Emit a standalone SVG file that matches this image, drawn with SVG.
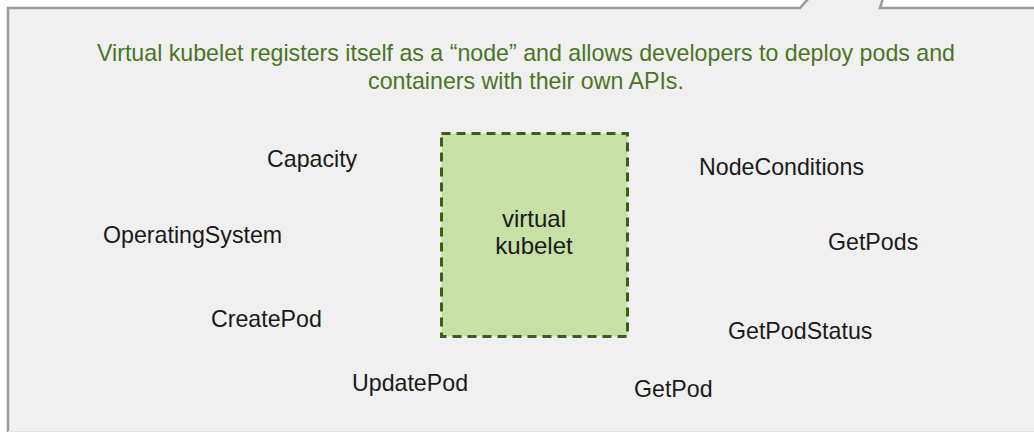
<svg xmlns="http://www.w3.org/2000/svg" width="1034" height="434" viewBox="0 0 1034 434">
  <style>
    .label { font-family: "Liberation Sans", Arial, Helvetica, sans-serif; font-size: 23.2px; fill: #1a1a1a; }
    .caption { font-family: "Liberation Sans", Arial, Helvetica, sans-serif; font-size: 23.2px; fill: #4b7526; text-anchor: middle; }
    .node-box { fill: #c6e0a6; stroke: #38601a; stroke-width: 3; stroke-dasharray: 9 6; }
    .node-text { font-family: "Liberation Sans", Arial, Helvetica, sans-serif; font-size: 24px; fill: #1a1a1a; text-anchor: middle; }
  </style>

  <!-- page background -->
  <rect x="0" y="0" width="1034" height="434" fill="#ffffff"/>

  <!-- callout panel with its pointer rising off the top edge -->
  <g id="callout">
    <path d="M 8 431 L 8 8 L 800 8 L 818 -12 L 886 -12 L 880 8 L 1040 8 L 1040 431 Z" fill="#f0f0f0"/>
    <path d="M 8 432 L 8 8 L 800 8 L 818 -12 M 886 -12 L 880 8 L 1040 8" fill="none" stroke="#9a9a9a" stroke-width="2.5"/>
    <line x1="8" y1="431.5" x2="1040" y2="431.5" stroke="#e2e2e2" stroke-width="1"/>
  </g>

  <!-- caption -->
  <g id="caption">
    <text class="caption" x="526" y="61">Virtual kubelet registers itself as a “node” and allows developers to deploy pods and</text>
    <text class="caption" x="526" y="89">containers with their own APIs.</text>
  </g>

  <!-- central node -->
  <g id="virtual-kubelet">
    <rect class="node-box" x="441.5" y="133.5" width="186" height="203"/>
    <text class="node-text" x="534" y="227">virtual</text>
    <text class="node-text" x="534" y="254">kubelet</text>
  </g>

  <!-- surrounding API labels -->
  <g id="capacity"><text class="label" x="267" y="167">Capacity</text></g>
  <g id="operating-system"><text class="label" x="103" y="243">OperatingSystem</text></g>
  <g id="create-pod"><text class="label" x="211" y="327">CreatePod</text></g>
  <g id="update-pod"><text class="label" x="352" y="391">UpdatePod</text></g>
  <g id="node-conditions"><text class="label" x="699" y="175">NodeConditions</text></g>
  <g id="get-pods"><text class="label" x="828" y="250">GetPods</text></g>
  <g id="get-pod-status"><text class="label" x="728" y="339">GetPodStatus</text></g>
  <g id="get-pod"><text class="label" x="634" y="397">GetPod</text></g>

  <!-- no connectors are drawn in this figure -->
  <g id="connectors"/>
</svg>
